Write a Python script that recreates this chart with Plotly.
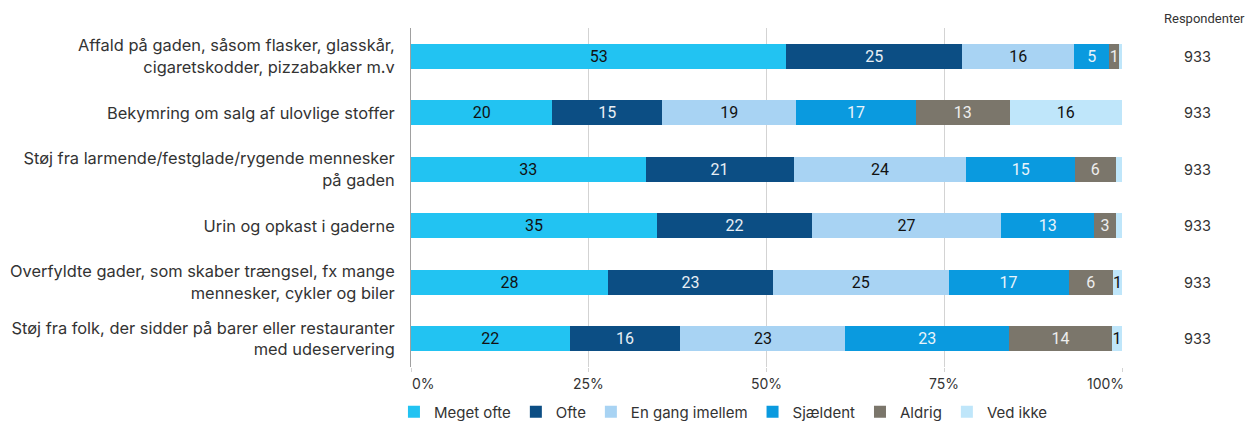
import plotly.graph_objects as go

categories = [
    "Affald på gaden, såsom flasker, glasskår,<br>cigaretskodder, pizzabakker m.v",
    "Bekymring om salg af ulovlige stoffer",
    "Støj fra larmende/festglade/rygende mennesker<br>på gaden",
    "Urin og opkast i gaderne",
    "Overfyldte gader, som skaber trængsel, fx mange<br>mennesker, cykler og biler",
    "Støj fra folk, der sidder på barer eller restauranter<br>med udeservering",
]
series_names = ["Meget ofte", "Ofte", "En gang imellem", "Sjældent", "Aldrig", "Ved ikke"]
meget_ofte = [52.8, 19.9, 33.0, 34.6, 27.7, 22.3]
ofte = [24.7, 15.4, 20.8, 21.8, 23.2, 15.6]
en_gang = [15.8, 18.9, 24.3, 26.6, 24.7, 23.2]
sjaeldent = [4.9, 16.8, 15.3, 13.1, 16.9, 23.0]
aldrig = [1.4, 13.2, 5.7, 3.0, 6.2, 14.5]
ved_ikke = [0.4, 15.8, 0.9, 0.9, 1.3, 1.4]
respondents = [933, 933, 933, 933, 933, 933]
tick_vals = [0, 25, 50, 75, 100]
tick_text = ["0%", "25%", "50%", "75%", "100%"]

colors = ["#22C3F2", "#0C4E84", "#A8D3F3", "#0A9ADF", "#7B766B", "#BFE6FA"]
text_colors = ["#111111", "#E8EEF4", "#111111", "#E8F4FB", "#EEEEEE", "#111111"]
all_vals = [meget_ofte, ofte, en_gang, sjaeldent, aldrig, ved_ikke]

FONT = "Inter"

fig = go.Figure()
for name, vals, col, tcol in zip(series_names, all_vals, colors, text_colors):
    labels = [str(int(round(v))) if v >= 1 else "" for v in vals]
    fig.add_trace(go.Bar(
        y=categories, x=vals, name=name, orientation="h",
        marker=dict(color=col, line=dict(width=0)),
        text=labels, textposition="inside", insidetextanchor="middle",
        textangle=0, constraintext="none",
        textfont=dict(family="Roboto", size=16, color=tcol),
        hoverinfo="x+name",
    ))

annotations = []
for cat, n in zip(categories, respondents):
    annotations.append(dict(x=1.1055, y=cat, xref="paper", yref="y", text=str(n),
                            showarrow=False, xanchor="center",
                            font=dict(family=FONT, size=14.5, color="#333333")))
annotations.append(dict(x=1.1165, y=1, xref="paper", yref="paper", yanchor="middle", yshift=10,
                        text="Respondenter", showarrow=False, xanchor="center",
                        font=dict(family="Roboto", size=13, color="#333333")))
for i, (tv, tt) in enumerate(zip(tick_vals, tick_text)):
    anchor = "left" if i == 0 else ("right" if i == len(tick_vals) - 1 else "center")
    shift = -1 if i == 0 else (4 if i == len(tick_vals) - 1 else 0)
    annotations.append(dict(x=tv, y=0, xref="x", yref="paper", yanchor="middle", yshift=-16,
                            xshift=shift, text=tt, showarrow=False, xanchor=anchor,
                            font=dict(family=FONT, size=14, color="#333333")))

fig.update_layout(
    barmode="stack",
    bargap=0.56,
    width=1245, height=413,
    margin=dict(l=403, r=131, t=20, b=54),
    paper_bgcolor="white", plot_bgcolor="white",
    font=dict(family=FONT, size=15, color="#333333"),
    xaxis=dict(range=[0, 100], tickvals=tick_vals, showticklabels=False,
               showgrid=True, gridcolor="#D3D3D3", gridwidth=1,
               zeroline=False, showline=False, automargin=False,
               ticks="outside", ticklen=4, tickcolor="#D3D3D3", fixedrange=True),
    yaxis=dict(autorange="reversed", ticks="", showgrid=False, automargin=False,
               showline=True, linecolor="#A0A0A0", linewidth=1,
               ticklabelstandoff=12,
               tickfont=dict(family=FONT, size=16.4, color="#333333")),
    legend=dict(orientation="h", xref="container", x=0.31, xanchor="left",
                yref="container", y=0.0218, yanchor="middle",
                font=dict(family=FONT, size=15, color="#333333"),
                itemwidth=30, traceorder="normal", itemclick=False),
    annotations=annotations,
    showlegend=True,
)

fig.write_html("out.html")
